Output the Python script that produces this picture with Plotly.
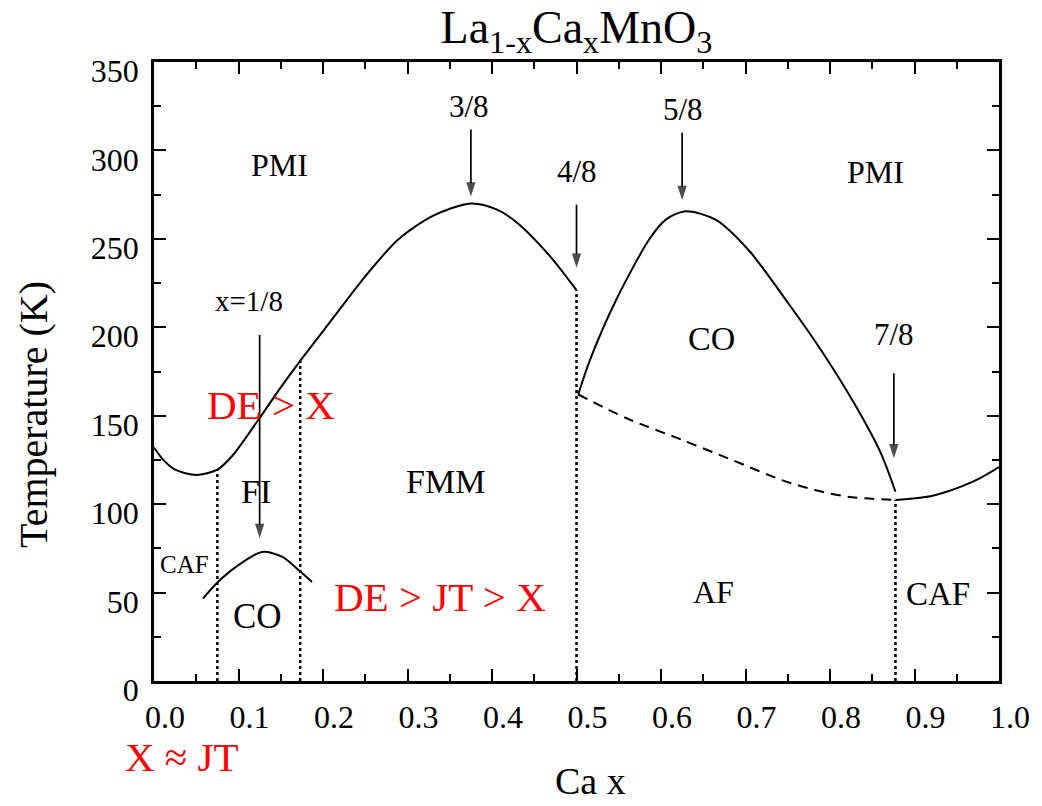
import plotly.graph_objects as go

# ---- phase boundaries of La(1-x)Ca(x)MnO3: Ca fraction x vs temperature (K) ----
# upper boundary PMI -> FI / FMM (0 <= x <= 0.5)
tc_x = [0.0, 0.011, 0.025, 0.05, 0.075, 0.093, 0.124, 0.15, 0.173, 0.21, 0.25,
        0.289, 0.33, 0.375, 0.406, 0.43, 0.469, 0.5]
tc_T = [132, 125, 119.5, 116.5, 119.5, 127.5, 148, 166, 181, 204, 228.8,
        249.6, 263, 270, 266.5, 259, 240, 221]

# charge-ordering dome (0.5 <= x <= 7/8)
co_x = [0.502, 0.516, 0.547, 0.586, 0.606, 0.629, 0.664, 0.703, 0.75, 0.7895,
        0.8286, 0.86, 0.8775]
co_T = [162, 181.6, 215.6, 249.6, 261, 265.6, 261, 244, 214, 187, 157, 129, 107]

# antiferromagnetic transition (dashed)
af_x = [0.502, 0.5587, 0.625, 0.684, 0.743, 0.782, 0.821, 0.8775]
af_T = [162, 148.7, 136.3, 125, 113.6, 108, 104.2, 102.3]

# canted AF boundary at high x
caf_x = [0.8775, 0.9187, 0.938, 0.958, 0.977, 1.0]
caf_T = [102.3, 104.5, 107, 110.5, 114.6, 121]

# small CO dome around x = 1/8
co1_x = [0.058, 0.0736, 0.097, 0.128, 0.152, 0.171, 0.187]
co1_T = [46.6, 55, 64.5, 73, 70.2, 62.7, 56]

# vertical (dotted) phase separations: position and upper end
sep_x = [0.075, 0.173, 0.5, 0.8775]
sep_top = [119.5, 181, 221, 102.3]

# commensurate-filling arrows: x, tail temperature, head temperature
arrow_x = [0.125, 0.375, 0.5, 0.625, 0.8756]
arrow_from = [195.7, 311.8, 269.4, 310, 174]
arrow_to = [80.8, 274, 233.7, 272, 126]

# phase / filling labels
label_text = ["PMI", "3/8", "4/8", "5/8", "PMI", "x=1/8", "CO", "7/8",
              "FI", "FMM", "CAF", "CO", "AF", "CAF"]
label_x = [0.148, 0.373, 0.5, 0.626, 0.854, 0.1127, 0.66, 0.8756,
           0.1205, 0.3454, 0.0364, 0.1225, 0.662, 0.928]
label_T = [292, 325, 288, 323, 288, 214.6, 193.9, 195.8,
           107, 112.7, 65.9, 36.2, 50.4, 49.4]
label_size = [32, 31, 31, 31, 32, 29, 34, 31, 34, 34, 25, 35, 32, 33]

# interaction-hierarchy notes (red); the last one sits below the x axis
note_text = ["DE &gt; X", "DE &gt; JT &gt; X"]
note_x = [0.138, 0.339]
note_T = [156, 47.3]
note_below = "X ≈ JT"

# axis ticks
x_ticks = [0.0, 0.1, 0.2, 0.3, 0.4, 0.5, 0.6, 0.7, 0.8, 0.9, 1.0]
y_ticks = [0, 50, 100, 150, 200, 250, 300, 350]

SERIF = "Liberation Serif, Times New Roman, serif"
W, H = 1042, 806
L, R, T, B = 154, 36, 62, 125
pw, ph = W - L - R, H - T - B


def px_to_paper(px, py):
    return (px - L) / pw, (H - B - py) / ph


fig = go.Figure()

solid = dict(color="black", width=2, shape="spline", smoothing=0.8)
for xs, ts in [(tc_x, tc_T), (co_x, co_T), (caf_x, caf_T), (co1_x, co1_T)]:
    fig.add_trace(go.Scatter(x=xs, y=ts, mode="lines", line=solid,
                             hoverinfo="skip", showlegend=False))

fig.add_trace(go.Scatter(x=af_x, y=af_T, mode="lines",
                         line=dict(color="black", width=2, dash="10px,7px",
                                   shape="spline", smoothing=0.8),
                         hoverinfo="skip", showlegend=False))

for sx, st in zip(sep_x, sep_top):
    fig.add_trace(go.Scatter(x=[sx, sx], y=[0, st], mode="lines",
                             line=dict(color="black", width=2.5, dash="dot"),
                             hoverinfo="skip", showlegend=False))

# arrows: a line with an arrow-shaped marker whose tip sits on the head point
for ax_, t0, t1 in zip(arrow_x, arrow_from, arrow_to):
    fig.add_trace(go.Scatter(x=[ax_, ax_], y=[t0, t1], mode="lines+markers",
                             line=dict(color="black", width=1.7),
                             marker=dict(symbol="arrow", size=[0, 15],
                                         angleref="previous", color="black",
                                         line=dict(width=0)),
                             hoverinfo="skip", showlegend=False))

annotations = []
for txt, lx, lt, sz in zip(label_text, label_x, label_T, label_size):
    annotations.append(dict(x=lx, y=lt, xref="x", yref="y", text=txt,
                            showarrow=False,
                            font=dict(family=SERIF, size=sz, color="black")))

red = dict(family=SERIF, size=41, color="#ff0000")
for txt, nx, nt in zip(note_text, note_x, note_T):
    annotations.append(dict(x=nx, y=nt, xref="x", yref="y", text=txt,
                            showarrow=False, font=red))
bx, by = px_to_paper(182, 757)
annotations.append(dict(x=bx, y=by, xref="paper", yref="paper",
                        xanchor="center", yanchor="middle", text=note_below,
                        showarrow=False, font=red))

# axis titles
tx, ty = px_to_paper(32, 415)
annotations.append(dict(x=tx, y=ty, xref="paper", yref="paper",
                        xanchor="center", yanchor="middle",
                        text="Temperature (K)", textangle=-90, showarrow=False,
                        font=dict(family=SERIF, size=40, color="black")))
cx, cy = px_to_paper(594, 781)
annotations.append(dict(x=cx, y=cy, xref="paper", yref="paper",
                        xanchor="center", yanchor="middle",
                        text="Ca x", showarrow=False,
                        font=dict(family=SERIF, size=38, color="black")))

axis_common = dict(showline=True, linecolor="black", linewidth=2.5,
                   mirror="ticks", ticks="inside", tickwidth=2,
                   tickcolor="black", showgrid=False, zeroline=False,
                   tickfont=dict(family=SERIF, size=32, color="black"))

fig.update_layout(
    width=W, height=H,
    margin=dict(l=L, r=R, t=T, b=B),
    paper_bgcolor="white", plot_bgcolor="white",
    title=dict(text="La<sub>1-x</sub>Ca<sub>x</sub>MnO<sub>3</sub>",
               x=0.5, xref="paper", xanchor="center",
               y=1 - 27 / H, yref="container", yanchor="middle",
               font=dict(family=SERIF, size=46, color="black")),
    xaxis=dict(range=[0, 1], tickvals=x_ticks, tickformat=".1f",
               ticklen=12, ticklabelstandoff=6, ticklabelshift=11,
               minor=dict(ticks="inside", dtick=0.05, ticklen=7, tickwidth=2,
                          tickcolor="black", showgrid=False),
               **axis_common),
    yaxis=dict(range=[0, 350], tickvals=y_ticks,
               ticklen=12, ticklabelstandoff=6, ticklabelshift=9,
               minor=dict(ticks="inside", dtick=25, ticklen=7, tickwidth=2,
                          tickcolor="black", showgrid=False),
               **axis_common),
    annotations=annotations,
)

fig.write_html("out.html")
